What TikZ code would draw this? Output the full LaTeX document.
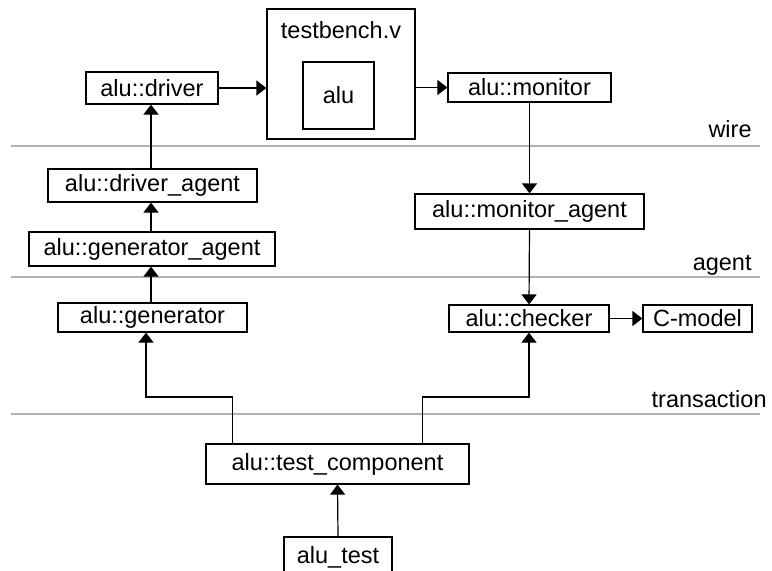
\documentclass[tikz,border=0pt]{standalone}
\usepackage{fontspec}
\setmainfont{Liberation Sans}
\usetikzlibrary{arrows.meta}

\begin{document}
\begin{tikzpicture}[x=0.5pt, y=-0.5pt,
    box/.style={draw, line width=0.6pt, inner sep=0pt, font=\fontsize{11.75}{14}\selectfont},
    arr/.style={line width=0.6pt, -{Triangle[width=7.5pt, length=5pt]}},
    layer/.style={draw=black!30, line width=0.6pt},
    lbl/.style={anchor=base east, inner sep=0pt, font=\fontsize{11.75}{14}\selectfont}]
  \useasboundingbox (0,0) rectangle (772,570);

  % Layer separators
  \draw[layer] (11,146) -- (760,146);
  \draw[layer] (11,277) -- (760,277);
  \draw[layer] (11,414) -- (760,414);
  \node[lbl] (wire) at (752,137) {wire};
  \node[lbl] (agent) at (752,270) {agent};
  \node[lbl] (trans) at (767,407) {transaction};

  % Testbench
  \node[box, minimum width=74pt, minimum height=65pt] (tb) at (341,74) {};
  \node[inner sep=0pt, font=\fontsize{11.75}{14}\selectfont] (tbname) at (341,30) {testbench.v};
  \node[box, minimum width=35.5pt, minimum height=33.5pt] (alu) at (338.5,95.5) {alu};

  % Components
  \node[box, minimum width=66pt, minimum height=16pt] (drv) at (152,88) {alu::driver};
  \node[box, minimum width=81.5pt, minimum height=14.5pt] (mon) at (529.5,87.5) {alu::monitor};
  \node[box, minimum width=104.5pt, minimum height=16.5pt] (drvag) at (152.5,185.5) {alu::driver\_agent};
  \node[box, minimum width=123pt, minimum height=17pt] (genag) at (152,249) {alu::generator\_agent};
  \node[box, minimum width=114.5pt, minimum height=17.5pt] (monag) at (529.5,211.5) {alu::monitor\_agent};
  \node[box, minimum width=94.5pt, minimum height=14.5pt] (gen) at (152.5,317.5) {alu::generator};
  \node[box, minimum width=80pt, minimum height=13.5pt] (chk) at (529,318.5) {alu::checker};
  \node[box, minimum width=54.5pt, minimum height=13.5pt] (cmod) at (697.5,318.5) {C-model};
  \node[box, minimum width=131.5pt, minimum height=20pt] (tc) at (337.5,464) {alu::test\_component};
  \node[box, minimum width=54pt, minimum height=20pt] (test) at (338,557) {alu\_test};

  % Bends
  \coordinate (bendl) at (146,397);
  \coordinate (bendr) at (529,397);

  % Connections
  \draw[arr] (drv.east) -- (drv.east -| tb.west);
  \draw[arr] (mon.west -| tb.east) -- (mon.west);
  \draw[arr] (drvag.north -| 151,0) -- (drv.south -| 151,0);
  \draw[arr] (genag.north -| 151,0) -- (drvag.south -| 151,0);
  \draw[arr] (gen.north -| 151,0) -- (genag.south -| 151,0);
  \draw[arr] (mon.south) -- (monag.north);
  \draw[arr] (monag.south) -- (chk.north);
  \draw[arr] (chk.east) -- (cmod.west);
  \draw[arr] ([xshift=13.5pt]tc.north west) |- (bendl) -- (bendl |- gen.south);
  \draw[arr] ([xshift=-23.5pt]tc.north east) |- (bendr) -- (bendr |- chk.south);
  \draw[arr] (test.north) -- (tc.south);
\end{tikzpicture}
\end{document}
